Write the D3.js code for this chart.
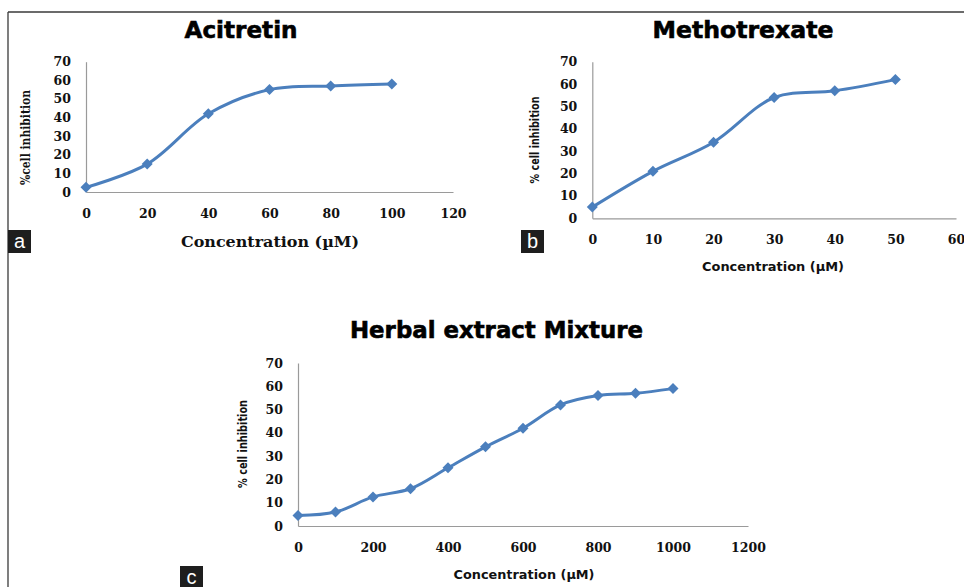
<!DOCTYPE html>
<html>
  <head>
    <meta charset="utf-8" />
    <title>Cell inhibition curves</title>
    <script src="https://d3js.org/d3.v7.min.js"></script>
    <style>
      body { margin: 0; background: #fff; }
      svg { display: block; }
    </style>
  </head>
  <body>
    <div id="figure"></div>
    <script type="text/javascript">
      // data
      var acitretinConc = [0, 20, 40, 60, 80, 100];
      var acitretinInhibition = [2.5, 15, 42, 55, 57, 58];
      var acitretinXTicks = [0, 20, 40, 60, 80, 100, 120];

      var methotrexateConc = [0, 10, 20, 30, 40, 50];
      var methotrexateInhibition = [5, 21, 34, 54, 57, 62];
      var methotrexateXTicks = [0, 10, 20, 30, 40, 50, 60];

      var herbalConc = [0, 100, 200, 300, 400, 500, 600, 700, 800, 900, 1000];
      var herbalInhibition = [4.5, 6, 12.5, 16, 25, 34, 42, 52, 56, 57, 59];
      var herbalXTicks = [0, 200, 400, 600, 800, 1000, 1200];

      var yTicks = [0, 10, 20, 30, 40, 50, 60, 70];

      var width = 964;
      var height = 587;
      var blue = "#4b7fbd";

      var svg = d3
        .select("#figure")
        .append("svg")
        .attr("width", width)
        .attr("height", height);

      // frame (top and left rule only)
      svg.append("line").attr("x1", 8).attr("y1", 12).attr("x2", width).attr("y2", 12)
        .attr("stroke", "#3a3a3a").attr("stroke-width", 1.3);
      svg.append("line").attr("x1", 8).attr("y1", 12).attr("x2", 8).attr("y2", height)
        .attr("stroke", "#3a3a3a").attr("stroke-width", 1.3);

      var panels = [
        {
          title: "Acitretin", titleX: 241, titleY: 38, titleLen: 113,
          conc: acitretinConc, values: acitretinInhibition, xTicks: acitretinXTicks,
          left: 86, right: 453, bottom: 192, top: 61.7,
          xTitle: "Concentration (\u00b5M)", xTitleX: 270, xTitleY: 246.5, xTitleLen: 178,
          xTitleFont: "DejaVu Serif", xTitleSize: 15,
          yTitle: "%cell inhibition", yTitleX: 26, yTitleY: 137.5, yTitleLen: 95,
          yTitleFont: "DejaVu Serif",
          label: "a", labelX: 8, labelY: 230
        },
        {
          title: "Methotrexate", titleX: 743, titleY: 38, titleLen: 181,
          conc: methotrexateConc, values: methotrexateInhibition, xTicks: methotrexateXTicks,
          left: 592.3, right: 956, bottom: 218.3, top: 61.7,
          xTitle: "Concentration (\u00b5M)", xTitleX: 773, xTitleY: 271, xTitleLen: 142,
          xTitleFont: "DejaVu Sans", xTitleSize: 12,
          yTitle: "% cell inhibition", yTitleX: 535, yTitleY: 140, yTitleLen: 87,
          yTitleFont: "DejaVu Sans",
          label: "b", labelX: 521, labelY: 230
        },
        {
          title: "Herbal extract Mixture", titleX: 496.5, titleY: 338, titleLen: 293,
          conc: herbalConc, values: herbalInhibition, xTicks: herbalXTicks,
          left: 298, right: 748, bottom: 526, top: 363,
          xTitle: "Concentration (\u00b5M)", xTitleX: 524, xTitleY: 578.5, xTitleLen: 141,
          xTitleFont: "DejaVu Sans", xTitleSize: 12,
          yTitle: "% cell inhibition", yTitleX: 243, yTitleY: 444, yTitleLen: 88,
          yTitleFont: "DejaVu Sans",
          label: "c", labelX: 180, labelY: 566
        }
      ];

      panels.forEach(drawPanel);

      function drawPanel(p) {
        var g = svg.append("g");
        var xMax = p.xTicks[p.xTicks.length - 1];
        var x = d3.scaleLinear().domain([0, xMax]).range([p.left, p.right]);
        var y = d3.scaleLinear().domain([0, 70]).range([p.bottom, p.top]);

        // title
        g.append("text")
          .attr("x", p.titleX)
          .attr("y", p.titleY)
          .attr("text-anchor", "middle")
          .attr("font-family", "DejaVu Sans")
          .attr("font-weight", "bold")
          .attr("font-size", 23)
          .attr("stroke", "#000")
          .attr("stroke-width", 0.6)
          .attr("textLength", p.titleLen)
          .attr("lengthAdjust", "spacingAndGlyphs")
          .text(p.title);

        var xAxis = g.append("g")
          .attr("transform", "translate(0," + p.bottom + ")")
          .call(d3.axisBottom(x).tickValues(p.xTicks).tickFormat(d3.format("d"))
            .tickSize(0).tickPadding(17));
        var yAxis = g.append("g")
          .attr("transform", "translate(" + p.left + ",0)")
          .call(d3.axisLeft(y).tickValues(yTicks).tickFormat(d3.format("d"))
            .tickSize(0).tickPadding(15));

        [xAxis, yAxis].forEach(function (ax) {
          ax.select(".domain").attr("stroke", "#9a9a9a").attr("stroke-width", 1.2);
          ax.selectAll("text")
            .attr("font-family", "DejaVu Serif")
            .attr("font-weight", "bold")
            .attr("font-size", 12.5)
            .attr("fill", "#111");
        });

        // axis titles
        g.append("text")
          .attr("x", p.xTitleX)
          .attr("y", p.xTitleY)
          .attr("text-anchor", "middle")
          .attr("font-family", p.xTitleFont)
          .attr("font-weight", "bold")
          .attr("font-size", p.xTitleSize)
          .attr("textLength", p.xTitleLen)
          .attr("lengthAdjust", "spacingAndGlyphs")
          .attr("fill", "#111")
          .text(p.xTitle);

        g.append("text")
          .attr("transform", "translate(" + (p.yTitleX + 4) + "," + p.yTitleY + ") rotate(-90)")
          .attr("text-anchor", "middle")
          .attr("font-family", p.yTitleFont)
          .attr("font-weight", "bold")
          .attr("font-size", 12)
          .attr("textLength", p.yTitleLen)
          .attr("lengthAdjust", "spacingAndGlyphs")
          .attr("fill", "#111")
          .text(p.yTitle);

        var points = p.conc.map(function (c, i) {
          return { c: c, v: p.values[i] };
        });

        var line = d3.line()
          .x(function (d) { return x(d.c); })
          .y(function (d) { return y(d.v); })
          .curve(d3.curveCatmullRom.alpha(0.5));

        g.append("path")
          .datum(points)
          .attr("d", line)
          .attr("fill", "none")
          .attr("stroke", blue)
          .attr("stroke-width", 3);

        g.selectAll(".marker")
          .data(points)
          .enter()
          .append("path")
          .attr("class", "marker")
          .attr("d", "M0,-5.5L5.5,0L0,5.5L-5.5,0Z")
          .attr("transform", function (d) {
            return "translate(" + x(d.c) + "," + y(d.v) + ")";
          })
          .attr("fill", blue);

        // panel letter
        g.append("rect")
          .attr("x", p.labelX)
          .attr("y", p.labelY)
          .attr("width", 23)
          .attr("height", 23)
          .attr("fill", "#1e1e1e");
        g.append("text")
          .attr("x", p.labelX + 11.5)
          .attr("y", p.labelY + 18)
          .attr("text-anchor", "middle")
          .attr("font-family", "Liberation Sans")
          .attr("font-size", 20)
          .attr("fill", "#fff")
          .text(p.label);
      }
    </script>
  </body>
</html>
